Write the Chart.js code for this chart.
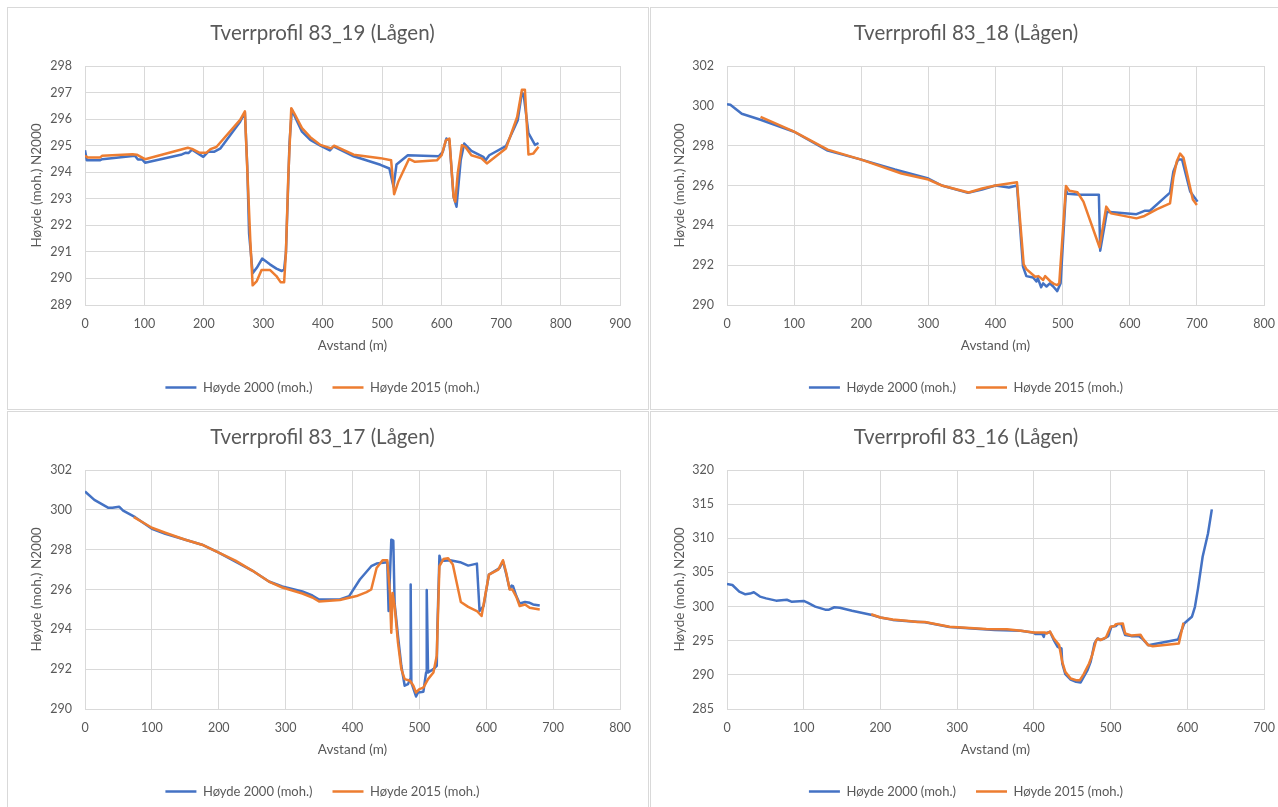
<!DOCTYPE html>
<html><head><meta charset="utf-8">
<script src="https://cdn.jsdelivr.net/npm/chart.js@4.4.1/dist/chart.umd.min.js"></script>
<style>
html,body{margin:0;padding:0;background:#fff;width:1278px;height:807px;overflow:hidden;position:relative;}
.panel{position:absolute;border:1px solid #d9d9d9;box-sizing:border-box;background:#fff}
canvas{position:absolute}
</style></head><body>
<div class="panel" style="left:7px;top:7px;width:642px;height:403px"></div>
<div class="panel" style="left:650px;top:7px;width:640px;height:403px"></div>
<div class="panel" style="left:7px;top:411px;width:642px;height:410px"></div>
<div class="panel" style="left:650px;top:411px;width:640px;height:410px"></div>
<canvas id="c1" width="640" height="400" style="left:8px;top:8px"></canvas>
<canvas id="c2" width="640" height="400" style="left:651px;top:8px"></canvas>
<canvas id="c3" width="640" height="400" style="left:8px;top:412px"></canvas>
<canvas id="c4" width="640" height="400" style="left:651px;top:412px"></canvas>
<script>
// ---------- Tverrprofil 83_19 ----------
const p19_x2000 = [0,3,25,29,84,89,96,101,163,169,174,180,199,207,217,228,261,269,273,276,282,289,298,311,322,331,335,338,341,344,348,353,365,379,396,412,418,452,497,512,519,524,543,595,602,608,613,620,625,632,638,650,670,674,680,708,728,735,738,746,757,763];
const p19_y2000 = [294.83,294.45,294.45,294.49,294.62,294.48,294.48,294.36,294.67,294.73,294.72,294.85,294.58,294.77,294.77,294.9,295.9,296.25,294.2,291.7,290.2,290.4,290.75,290.53,290.37,290.28,290.34,290.97,292.97,295.1,296.35,296.1,295.53,295.22,295.0,294.82,294.97,294.6,294.28,294.14,293.45,294.29,294.64,294.6,294.77,295.27,295.2,293.07,292.7,294.45,295.08,294.8,294.58,294.45,294.64,294.98,295.96,297.0,296.9,295.47,295.03,295.1];
const p19_x2015 = [0,5,25,29,80,87,101,173,180,193,204,211,221,261,269,273,278,282,289,297,311,322,329,335,338,342,347,352,365,379,396,414,419,452,497,515,520,527,545,555,592,600,607,613,620,623,627,634,640,650,667,676,708,727,735,740,746,754,763];
const p19_y2015 = [294.62,294.55,294.55,294.62,294.68,294.66,294.49,294.92,294.88,294.73,294.73,294.87,294.95,295.97,296.29,294.1,291.47,289.74,289.9,290.32,290.32,290.09,289.86,289.86,290.97,293.85,296.41,296.22,295.66,295.32,295.03,294.9,295.0,294.66,294.53,294.45,293.17,293.64,294.5,294.39,294.45,294.64,295.2,295.27,293.07,292.89,293.95,295.02,294.95,294.64,294.52,294.33,294.89,296.08,297.11,297.11,294.67,294.7,294.96];

// ---------- Tverrprofil 83_18 ----------
const p18_x2000 = [0,5,22,50,100,150,200,250,300,320,359,380,400,420,432,441,446,456,461,463,468,471,476,481,486,492,497,505,507,527,554,556,566,610,622,630,660,665,672,678,690,701];
const p18_y2000 = [300.08,300.05,299.6,299.3,298.7,297.75,297.3,296.8,296.35,296.0,295.63,295.8,296.0,295.9,296.0,291.93,291.45,291.38,291.18,291.35,290.89,291.09,290.93,291.09,290.93,290.7,291.09,295.78,295.58,295.53,295.53,292.73,294.68,294.56,294.73,294.73,295.64,296.7,297.3,297.3,295.7,295.19];
const p18_x2015 = [50,100,150,200,260,300,320,360,380,400,432,442,446,459,464,471,474,482,487,492,495,505,510,522,531,555,565,572,610,622,640,660,665,670,675,680,694,700];
const p18_y2015 = [299.45,298.7,297.8,297.3,296.6,296.3,296.0,295.65,295.85,296.0,296.16,292.04,291.8,291.42,291.45,291.26,291.45,291.18,291.06,291.0,291.1,295.98,295.74,295.66,295.19,292.9,294.94,294.6,294.35,294.47,294.8,295.1,296.4,297.2,297.6,297.4,295.3,295.02];

// ---------- Tverrprofil 83_17 ----------
const p17_x2000 = [0,14,35,41,51,57,75,100,120,150,175,200,225,250,275,295,325,340,350,381,395,411,428,436,452,454,458,461,463,468,473,478,483,486,487,488,495,498,506,510,511,513,521,526,527,530,532,546,561,573,586,590,596,604,620,625,630,635,638,640,645,650,658,665,670,680];
const p17_y2000 = [300.92,300.5,300.1,300.1,300.16,299.96,299.63,299.05,298.8,298.5,298.25,297.85,297.4,296.95,296.4,296.15,295.9,295.7,295.5,295.5,295.67,296.5,297.17,297.3,297.37,294.92,298.5,298.45,295.3,293.67,292.17,291.17,291.25,291.5,296.25,291.33,290.63,290.83,290.87,291.83,295.97,291.83,292.0,292.17,294.17,297.7,297.43,297.47,297.37,297.2,297.3,294.92,295.17,296.75,297.08,297.42,296.75,296.03,296.2,296.17,295.67,295.3,295.37,295.33,295.25,295.2];
const p17_x2015 = [73,90,100,120,150,175,200,225,250,275,295,325,340,350,381,406,421,428,436,445,452,456,458,460,463,468,473,478,486,491,495,500,506,513,521,526,530,536,543,550,562,573,586,593,604,618,625,630,635,639,645,650,658,665,680];
const p17_y2015 = [299.63,299.3,299.1,298.85,298.5,298.25,297.85,297.45,296.95,296.4,296.1,295.8,295.6,295.4,295.47,295.67,295.87,296.0,297.08,297.47,297.47,295.83,293.83,295.83,295.17,293.33,292.0,291.5,291.42,291.17,290.83,291.0,291.07,291.5,291.83,292.67,297.17,297.53,297.57,297.25,295.37,295.13,294.92,294.67,296.75,297.0,297.47,296.83,296.0,296.0,295.63,295.17,295.25,295.08,295.0];

// ---------- Tverrprofil 83_16 ----------
const p16_x2000 = [0,7,16,24,30,35,43,51,64,78,84,100,105,115,128,133,140,147,163,189,200,216,237,258,290,349,383,400,402,411,413,414,421,426,431,436,437,441,448,455,461,465,470,474,479,483,486,492,497,501,507,509,514,519,527,537,541,549,588,596,600,606,610,614,620,627,632];
const p16_y2000 = [303.3,303.16,302.2,301.8,301.9,302.1,301.46,301.2,300.87,301.0,300.72,300.82,300.58,300.0,299.55,299.55,299.9,299.84,299.4,298.77,298.4,298.05,297.85,297.7,297.0,296.57,296.45,296.16,295.97,295.97,295.57,296.06,296.3,295.1,294.1,293.86,291.67,290.1,289.3,288.98,288.88,289.7,290.69,291.9,294.6,295.33,295.09,295.33,295.67,297.04,297.14,297.43,297.43,295.82,295.67,295.67,295.33,294.35,295.18,297.53,297.92,298.5,299.97,302.66,307.3,310.7,314.24];
const p16_x2015 = [188,200,216,237,248,258,290,338,365,383,400,409,414,417,421,426,433,437,441,448,455,460,465,472,476,481,484,487,494,500,505,507,516,519,527,539,542,549,555,589,595];
const p16_y2015 = [298.87,298.4,298.1,297.9,297.75,297.75,297.06,296.72,296.67,296.45,296.2,296.2,296.2,296.06,296.35,295.33,294.35,291.9,290.44,289.47,289.22,289.22,290.1,291.67,292.9,295.0,295.33,295.1,295.48,297.04,297.14,297.43,297.53,296.06,295.77,295.87,295.33,294.35,294.2,294.6,297.63];

const seriesNames = ['Høyde 2000 (moh.)', 'Høyde 2015 (moh.)'];
const titles = ['Tverrprofil 83_19 (Lågen)', 'Tverrprofil 83_18 (Lågen)', 'Tverrprofil 83_17 (Lågen)', 'Tverrprofil 83_16 (Lågen)'];
const xTitle = 'Avstand (m)';
const yTitle = 'Høyde (moh.) N2000';

const BLUE = '#4472C4', ORANGE = '#ED7D31', TXT = '#595959', GRID = '#d9d9d9';
Chart.defaults.font.family = "Lato, 'Open Sans', sans-serif";
Chart.defaults.color = TXT;

function pts(xs, ys) { return xs.map((x, i) => ({x: x, y: ys[i]})); }

function make(id, title, xMax, yMin, yMax, yStep, bx, by, ox, oy, yW, rPad) {
  new Chart(document.getElementById(id), {
    type: 'line',
    data: {
      datasets: [
        {label: seriesNames[0], data: pts(bx, by), borderColor: BLUE, backgroundColor: BLUE, borderWidth: 2.5, pointRadius: 0, tension: 0, order: 1, borderJoinStyle: 'round'},
        {label: seriesNames[1], data: pts(ox, oy), borderColor: ORANGE, backgroundColor: ORANGE, borderWidth: 2.5, pointRadius: 0, tension: 0, order: 0, borderJoinStyle: 'round'}
      ]
    },
    options: {
      responsive: false, animation: false, devicePixelRatio: 1,
      layout: {padding: {left: 17, right: rPad, top: 0, bottom: 4}},
      plugins: {
        tooltip: {enabled: false},
        title: {display: true, text: title, color: TXT, font: {size: 20.5, weight: 'normal'}, padding: {top: 12.7, bottom: 20.7}},
        legend: {position: 'bottom', labels: {usePointStyle: true, pointStyle: 'line', pointStyleWidth: 31, padding: 20, color: TXT, font: {size: 13},
          sort: (a, b) => a.datasetIndex - b.datasetIndex}}
      },
      scales: {
        x: {type: 'linear', min: 0, max: xMax,
          ticks: {stepSize: 100, padding: 11, color: TXT, font: {size: 12.5}, maxRotation: 0},
          grid: {color: GRID, drawTicks: false}, border: {color: GRID},
          title: {display: true, text: xTitle, color: TXT, font: {size: 13.5}, padding: {top: 4, bottom: 7}},
          afterFit: s => { s.height = 56; }},
        y: {type: 'linear', min: yMin, max: yMax,
          ticks: {stepSize: yStep, padding: 13, color: TXT, font: {size: 12.5}},
          grid: {color: GRID, drawTicks: false}, border: {color: GRID},
          title: {display: true, text: yTitle, color: TXT, font: {size: 13.5}, padding: {top: 4, bottom: 4}},
          afterFit: s => { s.width = yW; }}
      }
    }
  });
}

make('c1', titles[0], 900, 289, 298, 1, p19_x2000, p19_y2000, p19_x2015, p19_y2015, 60, 28);
make('c2', titles[1], 800, 290, 302, 2, p18_x2000, p18_y2000, p18_x2015, p18_y2015, 59, 27);
make('c3', titles[2], 800, 290, 302, 2, p17_x2000, p17_y2000, p17_x2015, p17_y2015, 60, 28);
make('c4', titles[3], 700, 285, 320, 5, p16_x2000, p16_y2000, p16_x2015, p16_y2015, 59, 27);
</script>
</body></html>
